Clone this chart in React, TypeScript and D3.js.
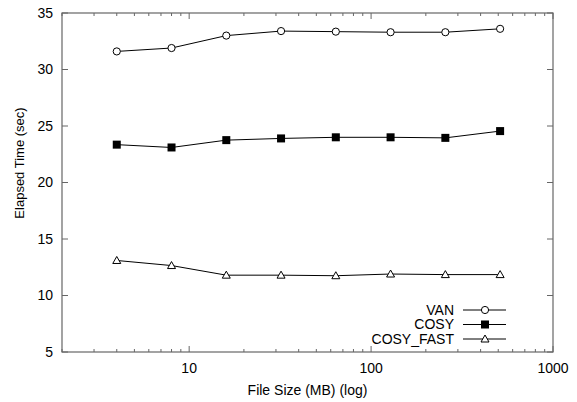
import React from "react";
import * as d3 from "d3";

const sizes = [4, 8, 16, 32, 64, 128, 256, 512];
const van = [31.6, 31.9, 33.0, 33.4, 33.35, 33.3, 33.3, 33.6];
const cosy = [23.35, 23.1, 23.75, 23.9, 24.0, 24.0, 23.95, 24.55];
const cosyFast = [13.1, 12.65, 11.8, 11.8, 11.75, 11.9, 11.85, 11.85];
const yTicks = [5, 10, 15, 20, 25, 30, 35];
const xMajor = [10, 100, 1000];
const seriesNames = ["VAN", "COSY", "COSY_FAST"];

const W = 577, H = 402;
const L = 62, R = 553, T = 13, B = 352;

export default function App() {
  const x = d3.scaleLog().domain([2, 1000]).range([L, R]);
  const y = d3.scaleLinear().domain([5, 35]).range([B, T]);
  const line = d3.line<number>().x((_, i) => x(sizes[i])).y((d) => y(d));
  const minor: number[] = [];
  for (let dec = 1; dec <= 100; dec *= 10) {
    for (let k = 1; k < 10; k++) {
      const v = dec * k;
      if (v >= 2 && v <= 1000 && !xMajor.includes(v)) minor.push(v);
    }
  }
  const series = [van, cosy, cosyFast];
  const font = "Liberation Sans, Arial, Helvetica, sans-serif";
  const axisCol = "#666";

  const marker = (kind: number, cx: number, cy: number, key: string) => {
    if (kind === 0)
      return <circle key={key} cx={cx} cy={cy} r={3.6} fill="white" stroke="black" strokeWidth={1} />;
    if (kind === 1)
      return <rect key={key} x={cx - 4} y={cy - 4} width={8} height={8} fill="black" />;
    const s = 4;
    return (
      <path
        key={key}
        d={`M${cx},${cy - s}L${cx + s},${cy + s * 0.75}L${cx - s},${cy + s * 0.75}Z`}
        fill="white"
        stroke="black"
        strokeWidth={1}
      />
    );
  };

  const legendY = [310, 324.5, 339];

  return (
    <svg width={W} height={H} style={{ position: "absolute", left: 0, top: 0, background: "white" }}>
      <rect width={W} height={H} fill="white" />
      {yTicks.map((t) => (
        <g key={"y" + t}>
          <line x1={L} x2={L + 6} y1={y(t)} y2={y(t)} stroke={axisCol} />
          <line x1={R} x2={R - 6} y1={y(t)} y2={y(t)} stroke={axisCol} />
          <text x={53} y={y(t)} dy="0.35em" textAnchor="end" fontFamily={font} fontSize={14}>
            {t}
          </text>
        </g>
      ))}
      {xMajor.map((t) => (
        <g key={"x" + t}>
          <line x1={x(t)} x2={x(t)} y1={B} y2={B - 6} stroke={axisCol} />
          <line x1={x(t)} x2={x(t)} y1={T} y2={T + 6} stroke={axisCol} />
          <text x={x(t)} y={373} textAnchor="middle" fontFamily={font} fontSize={14}>
            {t}
          </text>
        </g>
      ))}
      {minor.map((t) => (
        <g key={"m" + t}>
          <line x1={x(t)} x2={x(t)} y1={B} y2={B - 3} stroke={axisCol} />
          <line x1={x(t)} x2={x(t)} y1={T} y2={T + 3} stroke={axisCol} />
        </g>
      ))}
      <rect x={L} y={T} width={R - L} height={B - T} fill="none" stroke={axisCol} strokeWidth={1.2} />
      {series.map((s, si) => (
        <g key={"s" + si}>
          <path d={line(s) || ""} fill="none" stroke="black" strokeWidth={1} />
          {s.map((v, i) => marker(si, x(sizes[i]), y(v), `m${si}-${i}`))}
        </g>
      ))}
      {seriesNames.map((n, i) => (
        <g key={"l" + n}>
          <text x={454} y={legendY[i]} dy="0.35em" textAnchor="end" fontFamily={font} fontSize={14}>
            {n}
          </text>
          <line x1={463} x2={506} y1={legendY[i]} y2={legendY[i]} stroke="black" />
          {marker(i, 485, legendY[i], "lm" + i)}
        </g>
      ))}
      <text x={(L + R) / 2} y={395} textAnchor="middle" fontFamily={font} fontSize={14}>
        File Size (MB) (log)
      </text>
      <text
        transform={`translate(24,163) rotate(-90)`}
        textAnchor="middle"
        fontFamily={font}
        fontSize={13}
      >
        Elapsed Time (sec)
      </text>
    </svg>
  );
}
